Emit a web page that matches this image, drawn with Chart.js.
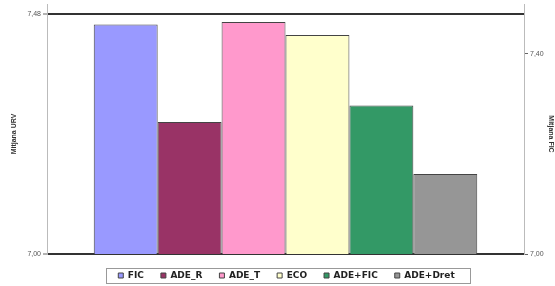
<!DOCTYPE html>
<html>
<head>
<meta charset="utf-8">
<script src="https://cdn.jsdelivr.net/npm/chart.js@4"></script>
<style>
  body { margin: 0; background: #fff; }
</style>
</head>
<body>
<canvas id="grafica" width="555" height="286"></canvas>
<script>
const ctx = document.getElementById("grafica");

// dades llegides del grafic
const series = ["FIC", "ADE_R", "ADE_T", "ECO", "ADE+FIC", "ADE+Dret"];
const mitjanes = [7.459, 7.264, 7.464, 7.438, 7.297, 7.160];
const colors = ["#9999ff", "#993366", "#ff99cc", "#ffffcc", "#339966", "#969696"];
const ticksUrv = [7.00, 7.48];
const ticksFic = [7.00, 7.40];

const fmt = v => Number(v).toFixed(2).replace(".", ",");

// mou la llegenda i dibuixa el marc
const marcLlegenda = {
    id: "marcLlegenda",
    afterUpdate(chart) {
        const lg = chart.legend;
        const dx = 4, dy = 0;
        lg.left += dx; lg.right += dx; lg.top += dy; lg.bottom += dy;
        lg.legendHitBoxes.forEach(h => { h.left += dx; h.top += dy; });
    },
    afterDraw(chart) {
        const hb = chart.legend.legendHitBoxes;
        const last = hb[hb.length - 1];
        const cy = hb[0].top + hb[0].height / 2;
        const c = chart.ctx;
        c.save();
        c.strokeStyle = "#999";
        c.lineWidth = 1;
        c.strokeRect(Math.round(hb[0].left - 12) + 0.5, Math.round(cy - 8) + 0.5,
            Math.round(last.left + last.width + 16 - (hb[0].left - 12)), 15);
        // vores del requadre per sobre de l'eix
        const a = chart.chartArea;
        c.strokeStyle = "#bbb";
        c.beginPath();
        c.moveTo(Math.round(a.left) + 0.5, a.top - 10);
        c.lineTo(Math.round(a.left) + 0.5, a.top);
        c.moveTo(Math.round(a.right) + 0.5, a.top - 10);
        c.lineTo(Math.round(a.right) + 0.5, a.top);
        c.stroke();
        c.restore();
    }
};

new Chart(ctx, {
    type: "bar",
    data: {
        labels: [""],
        datasets: series.map((nom, i) => ({
            label: nom,
            data: [mitjanes[i]],
            backgroundColor: colors[i],
            borderColor: "#444",
            borderWidth: 1,
            yAxisID: "y"
        }))
    },
    options: {
        responsive: false,
        animation: false,
        layout: { padding: { left: 10, right: 0, top: 14, bottom: -4 } },
        datasets: { bar: { categoryPercentage: 0.804, barPercentage: 1 } },
        plugins: {
            tooltip: { enabled: false },
            legend: {
                position: "bottom",
                labels: {
                    boxWidth: 5,
                    boxHeight: 5,
                    padding: 17,
                    color: "#222",
                    font: { family: "DejaVu Sans", size: 9, weight: "bold" }
                }
            }
        },
        scales: {
            x: { display: false },
            y: {
                position: "left",
                min: 7.00,
                max: 7.48,
                afterBuildTicks: s => { s.ticks = ticksUrv.map(v => ({ value: v })); },
                afterFit: s => { s.width = 37; },
                ticks: {
                    callback: v => fmt(v),
                    color: "#555",
                    padding: 2,
                    font: { family: "Liberation Sans", size: 7 }
                },
                grid: { color: "#333", lineWidth: 2, tickLength: 4, tickColor: "#666", tickWidth: 1 },
                border: { color: "#bbb", width: 1 },
                title: {
                    display: true,
                    text: "Mitjana URV",
                    color: "#333",
                    padding: 0,
                    font: { family: "Liberation Sans", size: 7, weight: "bold" }
                }
            },
            y1: {
                position: "right",
                min: 7.00,
                max: 7.48,
                afterBuildTicks: s => { s.ticks = ticksFic.map(v => ({ value: v })); },
                afterFit: s => { s.width = 31; },
                ticks: {
                    callback: v => fmt(v),
                    color: "#555",
                    padding: 2,
                    font: { family: "Liberation Sans", size: 7 }
                },
                grid: { drawOnChartArea: false, tickLength: 4, tickColor: "#666" },
                border: { color: "#bbb", width: 1 },
                title: {
                    display: true,
                    text: "Mitjana FIC",
                    color: "#333",
                    padding: 0,
                    font: { family: "Liberation Sans", size: 7, weight: "bold" }
                }
            }
        }
    },
    plugins: [marcLlegenda]
});
</script>
</body>
</html>
